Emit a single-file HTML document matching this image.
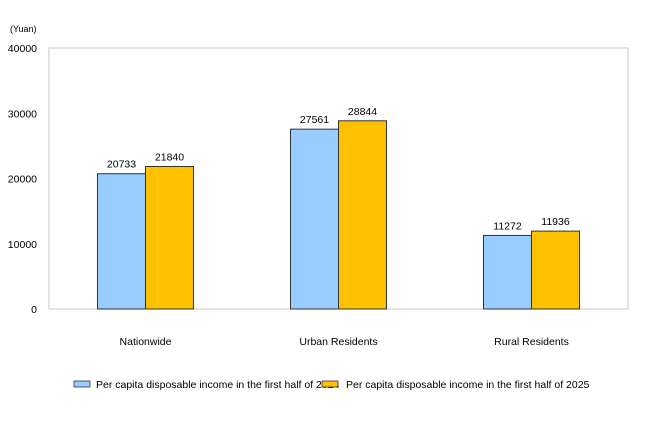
<!DOCTYPE html>
<html><head><meta charset="utf-8"><style>
body{margin:0;background:#fff;}
svg{display:block;font-family:"Liberation Sans",Arial,sans-serif;}
</style></head><body>
<svg id="chart" width="660" height="440" viewBox="0 0 660 440">
<rect x="0" y="0" width="660" height="440" fill="#fff"/>
<text x="10" y="32" font-size="9" fill="#000">(Yuan)</text>
<rect x="49" y="48" width="579" height="261" fill="none" stroke="#c8c8c8" stroke-width="1"/>
<g id="yticks"></g>
<g id="bars"></g>
<g id="legend">
<rect x="74" y="381" width="16" height="6" fill="#99ccff" stroke="#333" stroke-width="0.8"/>
<text x="96" y="388" font-size="10.5">Per capita disposable income in the first half of 2024</text>
<rect x="322" y="381" width="16" height="6" fill="#ffc000" stroke="#333" stroke-width="0.8"/>
<text x="346" y="388" font-size="10.5">Per capita disposable income in the first half of 2025</text>
</g>
</svg>
<script>
const categories=["Nationwide","Urban Residents","Rural Residents"];
const series2024=[20733,27561,11272];
const series2025=[21840,28844,11936];
const yTicks=[0,10000,20000,30000,40000];
const ns="http://www.w3.org/2000/svg";
const x0=49,plotW=579,y0=309,plotH=261,yMax=40000,barW=48;
function y(v){return y0-v/yMax*plotH;}
function cx(i){return x0+plotW/categories.length*(i+0.5);}
function mk(t,a,p){const e=document.createElementNS(ns,t);for(const k in a)e.setAttribute(k,a[k]);p.appendChild(e);return e;}
const yg=document.getElementById('yticks');
yTicks.forEach(v=>{
 const t=mk('text',{x:37,y:y(v)+4,'font-size':10.5,'text-anchor':'end'},yg);
 
 
 t.textContent=v;
});
const bg=document.getElementById('bars');
categories.forEach((c,i)=>{
 [[series2024,'#99ccff',-barW],[series2025,'#ffc000',0]].forEach(([s,col,off],j)=>{
  const v=s[i];
  const r=mk('rect',{x:cx(i)+off,y:y(v),width:barW,height:y0-y(v),fill:col,stroke:'#333','stroke-width':1},bg);
  
  
  const t=mk('text',{x:cx(i)+off+barW/2,y:y(v)-6,'font-size':10.5,'text-anchor':'middle'},bg);
  
  
  t.textContent=v;
 });
 const l=mk('text',{x:cx(i),y:345,'font-size':10.5,'text-anchor':'middle'},bg);
 
 
 l.textContent=c;
});
</script>
</body></html>
